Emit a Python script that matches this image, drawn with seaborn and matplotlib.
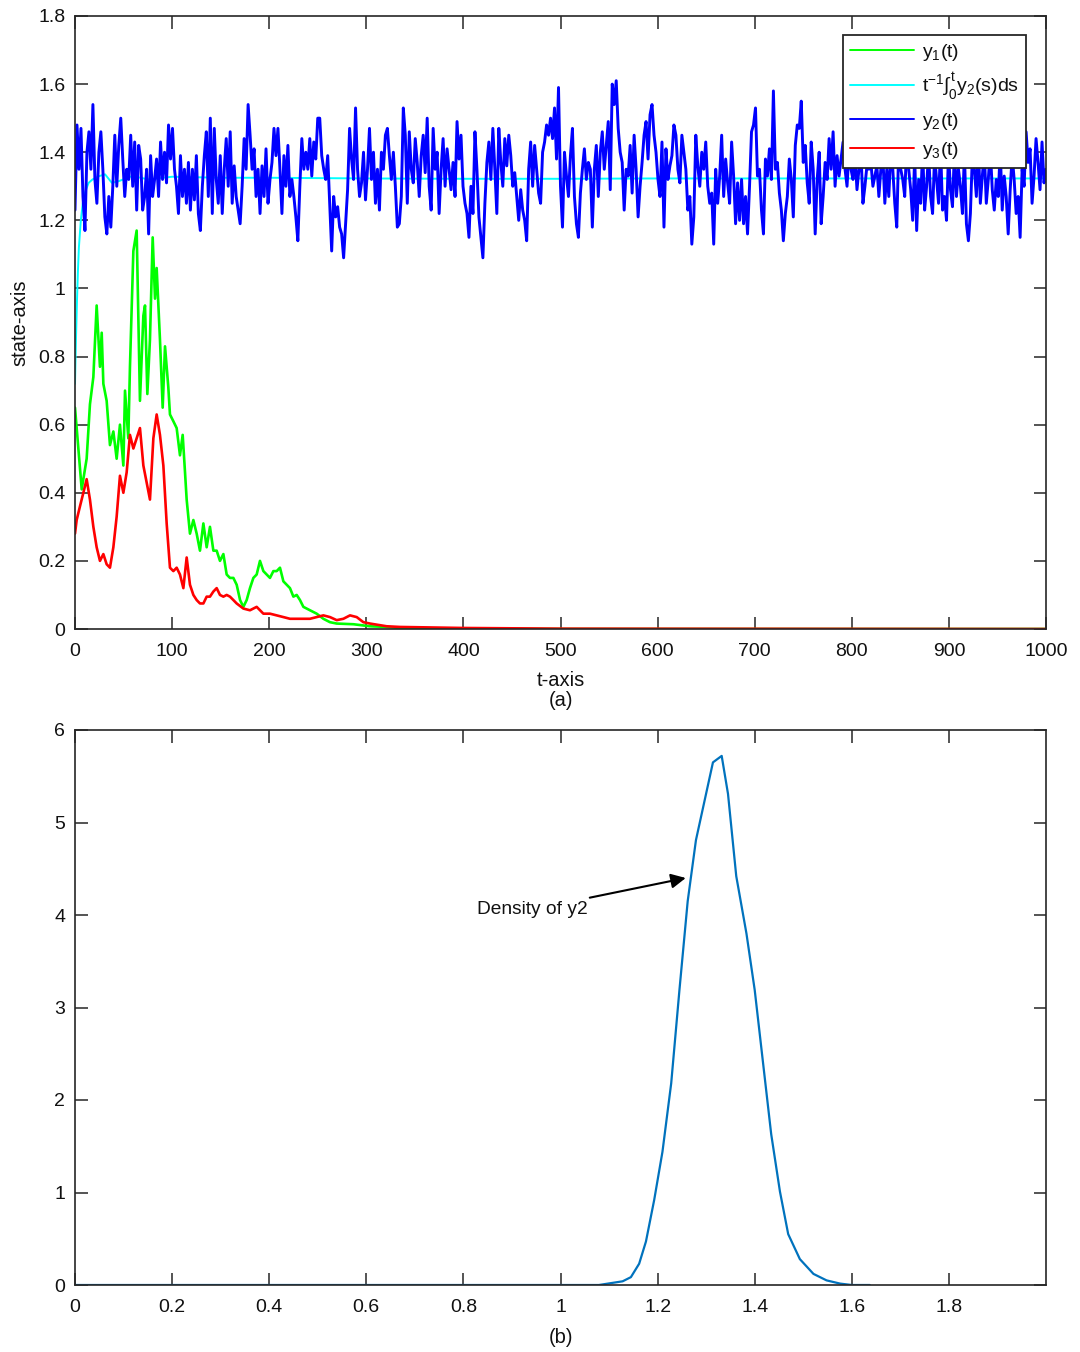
import numpy as np
import pandas as pd
import matplotlib
matplotlib.use("Agg")
import matplotlib.pyplot as plt
import seaborn as sns

# ---------------- data ----------------
y2_vals = [
 1.23,1.48,1.35,1.47,1.27,1.17,1.40,1.46,1.35,1.54,1.32,1.25,1.40,1.46,1.35,1.21,1.16,1.27,1.18,1.30,
 1.45,1.30,1.42,1.50,1.38,1.27,1.35,1.32,1.45,1.30,1.43,1.23,1.42,1.38,1.23,1.27,1.35,1.16,1.39,1.27,
 1.32,1.38,1.27,1.43,1.32,1.40,1.31,1.48,1.38,1.47,1.35,1.30,1.22,1.39,1.27,1.35,1.25,1.37,1.23,1.35,
 1.26,1.39,1.22,1.17,1.30,1.39,1.46,1.27,1.50,1.22,1.47,1.32,1.25,1.39,1.22,1.35,1.44,1.30,1.46,1.25,1.36,
 1.27,1.23,1.19,1.30,1.44,1.35,1.54,1.45,1.35,1.41,1.27,1.35,1.22,1.36,1.27,1.41,1.25,1.32,1.37,1.47,
 1.39,1.47,1.35,1.22,1.39,1.30,1.42,1.27,1.32,1.27,1.21,1.14,1.30,1.44,1.35,1.40,1.35,1.44,1.33,1.43,
 1.38,1.50,1.50,1.39,1.35,1.32,1.39,1.25,1.11,1.27,1.21,1.24,1.18,1.16,1.09,1.19,1.29,1.47,1.38,1.32,
 1.53,1.35,1.27,1.31,1.40,1.26,1.35,1.47,1.32,1.40,1.25,1.35,1.23,1.40,1.35,1.45,1.47,1.39,1.32,1.40,1.30,1.18,
 1.19,1.27,1.53,1.45,1.25,1.46,1.35,1.31,1.44,1.37,1.27,1.39,1.45,1.34,1.50,1.30,1.23,1.47,1.35,1.40,
 1.22,1.35,1.44,1.30,1.41,1.35,1.29,1.37,1.27,1.49,1.38,1.45,1.30,1.25,1.22,1.15,1.30,1.22,1.46,1.35,
 1.21,1.15,1.09,1.25,1.37,1.43,1.32,1.47,1.35,1.22,1.47,1.37,1.30,1.44,1.36,1.45,1.39,1.30,1.34,1.27,
 1.20,1.29,1.23,1.20,1.14,1.35,1.43,1.30,1.42,1.35,1.28,1.25,1.40,1.43,1.48,1.45,1.50,1.44,1.53,1.38,1.59,1.30,
 1.18,1.40,1.33,1.27,1.39,1.47,1.27,1.19,1.15,1.28,1.35,1.41,1.32,1.37,1.35,1.18,1.35,1.42,1.27,1.40,
 1.46,1.35,1.42,1.49,1.29,1.60,1.54,1.61,1.47,1.40,1.37,1.23,1.35,1.33,1.42,1.28,1.45,1.35,1.21,1.30,
 1.37,1.45,1.49,1.38,1.51,1.54,1.45,1.40,1.32,1.27,1.43,1.18,1.41,1.32,1.36,1.39,1.48,1.45,1.35,1.31,
 1.45,1.40,1.35,1.23,1.27,1.13,1.21,1.45,1.36,1.30,1.40,1.35,1.43,1.30,1.25,1.28,1.13,1.35,1.25,1.33,1.45,1.27,
 1.38,1.31,1.25,1.43,1.33,1.19,1.31,1.20,1.32,1.19,1.27,1.16,1.30,1.46,1.48,1.53,1.33,1.35,1.23,1.16,
 1.38,1.33,1.41,1.32,1.58,1.35,1.37,1.28,1.23,1.14,1.22,1.27,1.38,1.32,1.21,1.42,1.48,1.47,1.55,1.37,
 1.42,1.31,1.25,1.43,1.35,1.16,1.32,1.40,1.19,1.27,1.37,1.32,1.44,1.35,1.46,1.30,1.39,1.33,1.38,1.43,
 1.35,1.30,1.40,1.35,1.32,1.39,1.29,1.35,1.40,1.25,1.30,1.36,1.35,1.37,1.30,1.33,1.36,1.27,1.35,1.39,1.25,1.35,
 1.27,1.40,1.35,1.25,1.18,1.42,1.35,1.32,1.27,1.43,1.35,1.29,1.20,1.39,1.17,1.32,1.25,1.41,1.23,1.30,
 1.40,1.27,1.22,1.39,1.32,1.25,1.42,1.23,1.27,1.20,1.40,1.29,1.24,1.41,1.27,1.35,1.30,1.22,1.40,1.19,
 1.14,1.22,1.39,1.35,1.27,1.42,1.25,1.33,1.40,1.25,1.32,1.41,1.29,1.23,1.32,1.27,1.41,1.23,1.33,1.27,
 1.16,1.29,1.39,1.32,1.22,1.27,1.15,1.35,1.30,1.46,1.37,1.41,1.25,1.33,1.44,1.37,1.29,1.43,1.31,1.35,
]

cyan_t = [0, 1, 2, 3, 4, 6, 8, 10, 14, 18, 25, 31, 38, 45, 59, 76, 100, 150, 200, 300, 400, 500,
          600, 700, 800, 900, 1000]
cyan_vals = [0.72, 0.85, 0.96, 1.05, 1.12, 1.20, 1.25, 1.28, 1.31, 1.32, 1.33, 1.335, 1.31, 1.315,
             1.33, 1.32, 1.328, 1.325, 1.325, 1.323, 1.322, 1.322, 1.323, 1.323, 1.323, 1.323, 1.323]

y1_t = [0, 6.9, 12.0, 15.4, 18.9, 22.3, 25.7, 27.5, 29.2, 32.6, 36.0, 39.5, 42.9, 46.3, 49.8, 51.5,
        54.9, 56.6, 60.1, 63.5, 66.9, 70.4, 72.1, 74.5, 77.2, 80.0, 82.4, 84.1, 87.5, 90.3, 92.7,
        96.1, 97.8, 101.3, 104.7, 108.1, 110.9, 113.3, 115.0, 118.4, 121.9, 125.3, 128.7, 132.2,
        135.6, 139.0, 142.5, 145.9, 149.3, 152.8, 156.2, 159.6, 163.1, 166.5, 170.0, 173.4, 176.8,
        180.2, 183.7, 187.1, 190.5, 194.0, 197.4, 200.8, 204.3, 207.7, 211.1, 214.6, 218.0, 221.4,
        224.9, 228.3, 231.7, 235.2, 242.0, 248.9, 255.8, 262.6, 269.5, 286.7, 303.8, 321.0, 334.7,
        400, 500, 1000]
y1_vals = [0.65, 0.41, 0.50, 0.66, 0.74, 0.95, 0.77, 0.87, 0.72, 0.67, 0.54, 0.58, 0.50, 0.60, 0.48,
           0.70, 0.56, 0.77, 1.11, 1.17, 0.67, 0.92, 0.95, 0.69, 0.85, 1.15, 0.97, 1.06, 0.85, 0.65,
           0.83, 0.71, 0.63, 0.61, 0.59, 0.51, 0.57, 0.46, 0.38, 0.28, 0.32, 0.28, 0.23, 0.31, 0.24,
           0.30, 0.23, 0.23, 0.20, 0.22, 0.16, 0.15, 0.15, 0.13, 0.085, 0.065, 0.085, 0.12, 0.15,
           0.16, 0.20, 0.17, 0.16, 0.15, 0.17, 0.17, 0.18, 0.14, 0.13, 0.12, 0.095, 0.10, 0.085,
           0.065, 0.055, 0.045, 0.03, 0.02, 0.016, 0.014, 0.008, 0.006, 0.003, 0.001, 0.0, 0.0]

y3_t = [0, 1.7, 5.1, 8.6, 12.0, 15.4, 18.9, 22.3, 25.7, 29.2, 32.6, 36.0, 39.5, 42.9, 46.3, 49.8,
        53.2, 56.6, 60.1, 63.5, 66.9, 70.4, 73.8, 77.2, 80.7, 84.1, 87.5, 91.0, 94.4, 97.8, 101.3,
        104.7, 108.1, 111.6, 115.0, 118.4, 121.9, 125.3, 128.7, 132.2, 135.6, 139.0, 142.5, 145.9,
        149.3, 152.8, 156.2, 159.6, 163.1, 166.5, 173.4, 180.2, 187.1, 194.0, 200.8, 207.7, 214.6,
        221.4, 228.3, 235.2, 242.0, 248.9, 255.8, 262.6, 269.5, 276.4, 283.2, 290.1, 297.0, 303.8,
        321.0, 334.7, 400, 500, 1000]
y3_vals = [0.28, 0.32, 0.36, 0.40, 0.44, 0.38, 0.30, 0.24, 0.20, 0.22, 0.19, 0.18, 0.24, 0.33, 0.45,
           0.40, 0.46, 0.57, 0.53, 0.56, 0.59, 0.48, 0.43, 0.38, 0.56, 0.63, 0.57, 0.48, 0.31, 0.18,
           0.17, 0.18, 0.16, 0.12, 0.21, 0.13, 0.10, 0.085, 0.075, 0.075, 0.095, 0.095, 0.11, 0.12,
           0.10, 0.095, 0.10, 0.095, 0.085, 0.075, 0.06, 0.055, 0.065, 0.045, 0.045, 0.04, 0.035,
           0.03, 0.03, 0.03, 0.03, 0.035, 0.04, 0.035, 0.026, 0.03, 0.04, 0.035, 0.02, 0.016,
           0.008, 0.006, 0.003, 0.001, 0.0]

dens_x = [0.0, 0.5, 1.05, 1.079, 1.128, 1.145, 1.162, 1.176, 1.193, 1.210, 1.228, 1.245, 1.262, 1.279,
          1.314, 1.332, 1.345, 1.362, 1.383, 1.400, 1.417, 1.434, 1.452, 1.469, 1.493, 1.521,
          1.548, 1.576, 1.600, 1.637]
dens_y = [0.0, 0.0, 0.0, 0.0, 0.04, 0.085, 0.23, 0.47, 0.92, 1.44, 2.18, 3.19, 4.15, 4.81,
          5.65, 5.72, 5.31, 4.42, 3.80, 3.19, 2.41, 1.63, 1.01, 0.55, 0.28, 0.12,
          0.05, 0.015, 0.0, 0.0]

top_xticks = [0, 100, 200, 300, 400, 500, 600, 700, 800, 900, 1000]
top_yticks = [0, 0.2, 0.4, 0.6, 0.8, 1.0, 1.2, 1.4, 1.6, 1.8]
top_yticklabels = ["0", "0.2", "0.4", "0.6", "0.8", "1", "1.2", "1.4", "1.6", "1.8"]
bot_xticks = [0, 0.2, 0.4, 0.6, 0.8, 1.0, 1.2, 1.4, 1.6, 1.8]
bot_xticklabels = ["0", "0.2", "0.4", "0.6", "0.8", "1", "1.2", "1.4", "1.6", "1.8"]
bot_yticks = [0, 1, 2, 3, 4, 5, 6]

labels = [r"$\mathregular{y_1(t)}$", r"$\mathregular{t^{-1}\int_0^t y_2(s)ds}$",
          r"$\mathregular{y_2(t)}$", r"$\mathregular{y_3(t)}$"]

# ---------------- style ----------------
sns.set_style("white")
plt.rcParams["font.family"] = ["Liberation Sans", "DejaVu Sans"]
plt.rcParams["mathtext.fontset"] = "custom"
plt.rcParams["mathtext.rm"] = "Liberation Sans"
plt.rcParams["mathtext.it"] = "Liberation Sans"
plt.rcParams["mathtext.bf"] = "Liberation Sans:bold"

axis_col = "#262626"
txt_col = "#111111"

fig = plt.figure(figsize=(10.8, 13.52), dpi=100)
ax1 = fig.add_axes([75/1080, 1-629/1352, 971/1080, 613/1352])
ax2 = fig.add_axes([75/1080, 1-1285/1352, 971/1080, 555/1352])

y2_t = np.linspace(0, 1000, len(y2_vals))

df1 = pd.DataFrame({"t": y1_t, "v": y1_vals})
dfc = pd.DataFrame({"t": cyan_t, "v": cyan_vals})
df2 = pd.DataFrame({"t": y2_t, "v": y2_vals})
df3 = pd.DataFrame({"t": y3_t, "v": y3_vals})

sns.lineplot(data=df1, x="t", y="v", ax=ax1, color=(0, 1, 0), lw=1.9, label=labels[0],
             estimator=None, sort=False)
sns.lineplot(data=dfc, x="t", y="v", ax=ax1, color=(0, 1, 1), lw=1.4, label=labels[1],
             estimator=None, sort=False)
sns.lineplot(data=df2, x="t", y="v", ax=ax1, color=(0, 0, 1), lw=2.1, label=labels[2],
             estimator=None, sort=False)
sns.lineplot(data=df3, x="t", y="v", ax=ax1, color=(1, 0, 0), lw=1.9, label=labels[3],
             estimator=None, sort=False)

ax1.set_xlim(0, 1000)
ax1.set_ylim(0, 1.8)
ax1.set_xticks(top_xticks)
ax1.set_yticks(top_yticks)
ax1.set_yticklabels(top_yticklabels)
ax1.set_xlabel("t-axis", fontsize=14.5, color=txt_col, labelpad=8)
ax1.set_ylabel("state-axis", fontsize=14.5, color=txt_col, labelpad=6)
ax1.text(0.5, -0.116, "(a)", transform=ax1.transAxes, ha="center", va="center", fontsize=14.5,
         color=txt_col)

leg = ax1.legend(loc="upper right", bbox_to_anchor=(0.979, 0.969), borderaxespad=0,
                 fontsize=14, frameon=True, fancybox=False, framealpha=1, handlelength=3.3,
                 labelspacing=0.4, handletextpad=0.4, borderpad=0.35)
leg.get_frame().set_edgecolor(axis_col)
leg.get_frame().set_linewidth(1.3)
for t in leg.get_texts():
    t.set_color(txt_col)
for ln in leg.get_lines():
    ln.set_linewidth(1.4)

dfd = pd.DataFrame({"x": dens_x, "d": dens_y})
sns.lineplot(data=dfd, x="x", y="d", ax=ax2, color="#0072BD", lw=1.6, estimator=None, sort=False)
ax2.set_xlim(0, 2.0)
ax2.set_ylim(0, 6)
ax2.set_xticks(bot_xticks)
ax2.set_xticklabels(bot_xticklabels)
ax2.set_yticks(bot_yticks)
ax2.set_xlabel("")
ax2.set_ylabel("")
ax2.text(0.5, -0.094, "(b)", transform=ax2.transAxes, ha="center", va="center", fontsize=14.5,
         color=txt_col)
ax2.annotate("Density of y2", xy=(1.258, 4.40), xytext=(1.056, 4.06), ha="right", va="center",
             fontsize=13.8, color=txt_col,
             arrowprops=dict(arrowstyle="-|>", color="black", lw=1.5, mutation_scale=22,
                             shrinkA=0, shrinkB=0))

for ax in (ax1, ax2):
    for s in ax.spines.values():
        s.set_visible(True)
        s.set_color(axis_col)
        s.set_linewidth(1.2)
    ax.tick_params(axis="both", which="both", direction="in", length=9, width=1.1,
                   top=True, right=True, bottom=True, left=True, labelsize=14,
                   colors=axis_col, labelcolor=txt_col)
    ax.tick_params(axis="x", pad=10)
    ax.tick_params(axis="y", pad=7)

fig.savefig("out.png", dpi=100)
